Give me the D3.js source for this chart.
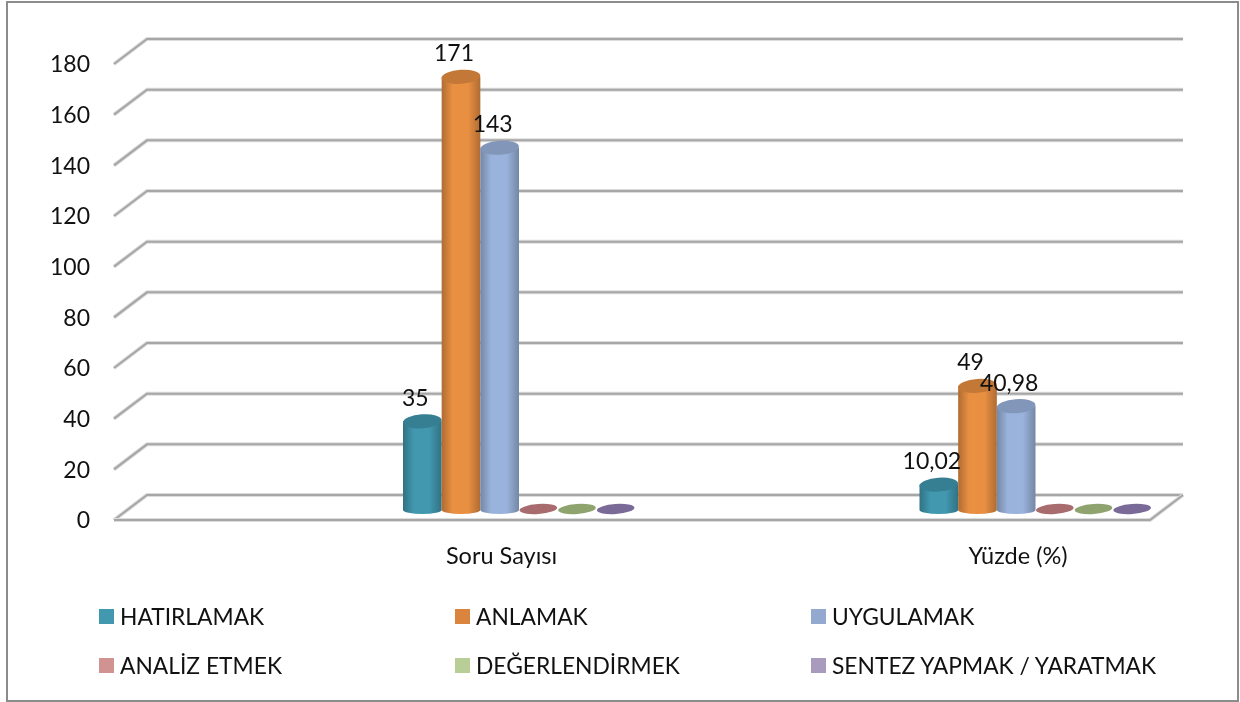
<!DOCTYPE html>
<html>
<head>
<meta charset="utf-8">
<script src="https://cdnjs.cloudflare.com/ajax/libs/d3/7.8.5/d3.min.js"></script>
<style>
  html, body { margin: 0; background: #fff; }
  svg { display: block; filter: blur(0.45px); }
  text { font-family: Lato, "Open Sans", sans-serif; fill: #111; }
</style>
</head>
<body>
<svg width="1240" height="702"></svg>
<script>
var categories = ["Soru Sayısı", "Yüzde (%)"];
var seriesNames = ["HATIRLAMAK", "ANLAMAK", "UYGULAMAK", "ANALİZ ETMEK", "DEĞERLENDİRMEK", "SENTEZ YAPMAK / YARATMAK"];
var soruValues = [35, 171, 143, 0, 0, 0];
var yuzdeValues = [10.02, 49, 40.98, 0, 0, 0];
var valueLabels = [["35", "171", "143"], ["10,02", "49", "40,98"]];
var yTicks = [0, 20, 40, 60, 80, 100, 120, 140, 160, 180];
var barColors = ["#4198AF", "#E98F42", "#9AB3DC", "#A86C6E", "#8FA36F", "#7A6A98"];
var swatchColors = ["#4198AF", "#DB843D", "#93A9CF", "#D19392", "#B9CD96", "#A99BBD"];

var svg = d3.select("svg");

var yFront = d3.scaleLinear().domain([0, 180]).range([520, 64]);
var yBack = d3.scaleLinear().domain([0, 180]).range([495, 39]);
var yBar = d3.scaleLinear().domain([0, 180]).range([510, 54]);

var xCat = d3.scalePoint().domain(categories).range([518.5, 1035]);
var xBar = d3.scaleBand().domain(d3.range(6)).range([-115.5, 116.5]);

var defs = svg.append("defs");
barColors.forEach(function(c, i) {
  var grad = defs.append("linearGradient").attr("id", "cyl" + i);
  grad.append("stop").attr("offset", "0%").attr("stop-color", d3.rgb(c).darker(0.8));
  grad.append("stop").attr("offset", "28%").attr("stop-color", c);
  grad.append("stop").attr("offset", "68%").attr("stop-color", c);
  grad.append("stop").attr("offset", "100%").attr("stop-color", d3.rgb(c).darker(0.8));
});

// chart border
svg.append("rect")
    .attr("x", 7).attr("y", 2)
    .attr("width", 1231).attr("height", 699)
    .attr("fill", "#fff").attr("stroke", "#8c8c8c").attr("stroke-width", 2);

// gridlines, back wall plus the short bit on the side wall
var grid = svg.append("g").attr("fill", "none");
grid.selectAll("path.halo")
    .data(yTicks)
  .enter().append("path")
    .attr("class", "halo")
    .attr("stroke", "#dcdcdc").attr("stroke-width", 4)
    .attr("d", gridPath);
grid.selectAll("path.line")
    .data(yTicks)
  .enter().append("path")
    .attr("class", "line")
    .attr("stroke", "#a6a6a6").attr("stroke-width", 2)
    .attr("d", gridPath);

function gridPath(d) {
  return "M114," + yFront(d) + "L147," + yBack(d) + "H1183";
}

// floor
var floorPath = "M114," + yFront(0) + "H1150L1183," + yBack(0);
grid.append("path").attr("d", floorPath).attr("stroke", "#dcdcdc").attr("stroke-width", 4);
grid.append("path").attr("d", floorPath).attr("stroke", "#a6a6a6").attr("stroke-width", 2);

// y axis labels
var yAxis = d3.axisLeft(yFront).tickValues(yTicks).tickSize(0).tickPadding(0);
var yG = svg.append("g").attr("transform", "translate(90,0.5)").call(yAxis);
yG.select(".domain").remove();
yG.selectAll("text").style("font-size", "23px").style("font-family", "Lato, sans-serif").attr("fill", "#111");

// cylinders
var groups = svg.selectAll("g.cat")
    .data([soruValues, yuzdeValues])
  .enter().append("g")
    .attr("class", "cat")
    .attr("transform", function(d, i) { return "translate(" + xCat(categories[i]) + ",0)"; });

var ry = 7;
groups.each(function(vals) {
  var g = d3.select(this);
  vals.forEach(function(v, i) {
    var x0 = xBar(i), w = xBar.bandwidth(), top = yBar(v), base = yBar(0);
    var rx = w / 2;
    if (v > 0) {
      g.append("path")
          .attr("d", "M" + x0 + "," + top + "V" + base +
            "A" + rx + "," + (ry - 3) + " 0 0 0 " + (x0 + w) + "," + base + "V" + top + "Z")
          .attr("fill", "url(#cyl" + i + ")");
    }
    var cy = v > 0 ? top : base - 1;
    g.append("ellipse")
        .attr("cx", x0 + rx).attr("cy", cy)
        .attr("rx", v > 0 ? rx : rx - 0.5).attr("ry", v > 0 ? ry : 5)
        .attr("transform", "rotate(-4," + (x0 + rx) + "," + cy + ")")
        .attr("fill", v > 0 ? d3.rgb(barColors[i]).darker(0.5) : barColors[i]);
  });
});

// value labels
groups.each(function(vals, c) {
  var g = d3.select(this);
  valueLabels[c].forEach(function(t, i) {
    g.append("text")
        .attr("x", xBar(i) + xBar.bandwidth() / 2 - 7)
        .attr("y", yBar(vals[i]) - 15.5)
        .attr("text-anchor", "middle")
        .style("font-size", "23px")
        .text(t);
  });
});

// category labels
svg.selectAll("text.cat-label")
    .data(categories)
  .enter().append("text")
    .attr("class", "cat-label")
    .attr("x", function(d) { return xCat(d) - 17; })
    .attr("y", 564)
    .attr("text-anchor", "middle")
    .style("font-size", "23.5px")
    .text(function(d) { return d; });

// legend
var legendX = d3.scalePoint().domain([0, 1, 2]).range([99, 811]);
var legendY = d3.scalePoint().domain([0, 1]).range([617, 666]);
var legend = svg.selectAll("g.leg")
    .data(seriesNames)
  .enter().append("g")
    .attr("class", "leg")
    .attr("transform", function(d, i) { return "translate(" + legendX(i % 3) + "," + legendY(Math.floor(i / 3)) + ")"; });
legend.append("rect")
    .attr("x", 0).attr("y", -8).attr("width", 15).attr("height", 15)
    .attr("fill", function(d, i) { return swatchColors[i]; });
legend.append("text")
    .attr("x", 21).attr("y", 8)
    .style("font-size", "22.8px")
    .text(function(d) { return d; });
</script>
</body>
</html>
